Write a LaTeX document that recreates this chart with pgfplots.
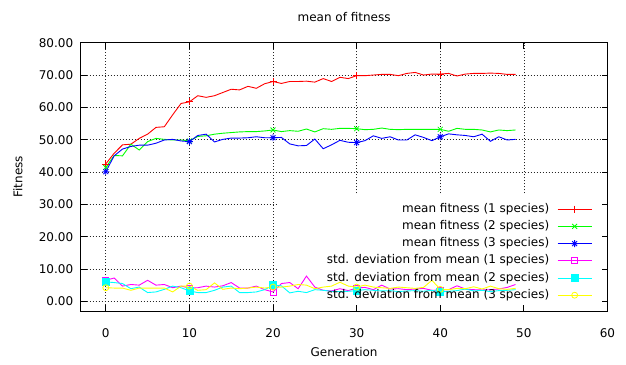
\documentclass[border=0pt]{standalone}
\usepackage{fontspec}
\setmainfont{DejaVu Sans}
\usepackage{pgfplots}
\pgfplotsset{compat=1.18}
\pgfdeclareplotmark{gpstar}{%
  \pgfpathmoveto{\pgfqpoint{-\pgfplotmarksize}{0pt}}\pgfpathlineto{\pgfqpoint{\pgfplotmarksize}{0pt}}%
  \pgfpathmoveto{\pgfqpoint{0pt}{-\pgfplotmarksize}}\pgfpathlineto{\pgfqpoint{0pt}{\pgfplotmarksize}}%
  \pgfpathmoveto{\pgfqpoint{-.707\pgfplotmarksize}{-.707\pgfplotmarksize}}\pgfpathlineto{\pgfqpoint{.707\pgfplotmarksize}{.707\pgfplotmarksize}}%
  \pgfpathmoveto{\pgfqpoint{-.707\pgfplotmarksize}{.707\pgfplotmarksize}}\pgfpathlineto{\pgfqpoint{.707\pgfplotmarksize}{-.707\pgfplotmarksize}}%
  \pgfusepathqstroke}
\tikzset{gpgrid/.style={black!85, line width=0.6pt, dash pattern=on 1pt off 2pt}}

\pgfplotstableread{
g a b c d e f
0 42.5 41.4 40.1 6.5 6.0 4.2
1 45.8 45.1 45.0 7.2 5.8 4.1
2 48.4 45.0 47.1 4.7 5.5 4.1
3 48.6 48.6 47.9 5.2 3.9 3.4
4 50.4 46.8 48.3 5.0 4.4 4.1
5 51.7 49.4 48.3 6.5 2.7 4.1
6 53.8 50.4 48.9 5.0 2.9 4.1
7 54.0 50.1 49.9 5.2 3.7 4.1
8 57.7 49.9 50.1 4.2 4.7 2.9
9 61.2 49.9 49.6 4.7 4.2 4.7
10 61.7 49.6 49.4 4.1 3.2 4.7
11 63.6 51.0 51.3 4.2 2.7 3.4
12 63.1 51.2 51.7 4.7 2.7 3.6
13 63.6 51.7 49.3 4.4 3.4 5.7
14 64.6 52.0 50.1 4.8 4.4 3.7
15 65.6 52.2 50.5 5.8 4.7 4.1
16 65.4 52.4 50.5 4.1 2.7 3.9
17 66.5 52.5 50.6 4.1 2.7 4.1
18 65.9 52.5 50.9 4.7 2.9 4.4
19 67.3 52.7 50.6 3.6 3.6 4.1
20 68.0 53.0 50.6 2.9 5.0 4.4
21 67.4 52.5 50.7 5.5 4.8 4.4
22 68.0 52.8 48.7 5.8 2.6 4.7
23 68.0 52.6 48.1 3.9 3.1 5.2
24 68.1 53.3 48.2 7.8 2.7 5.0
25 67.8 52.4 50.2 4.4 3.6 3.9
26 68.9 53.4 47.2 3.4 3.4 4.4
27 68.0 53.2 48.4 3.2 3.1 4.7
28 69.3 53.5 49.8 3.9 3.0 5.9
29 68.9 53.5 49.2 3.3 3.1 4.7
30 69.8 53.4 49.1 4.1 3.3 4.4
31 69.8 53.1 49.7 4.3 3.6 5.0
32 70.0 53.2 51.2 3.6 3.4 4.4
33 70.2 53.6 50.4 5.0 3.2 4.2
34 70.2 53.2 50.9 3.8 3.3 4.0
35 69.8 53.1 49.9 3.9 3.0 4.4
36 70.5 53.2 49.9 3.6 3.2 4.2
37 70.8 53.2 51.5 3.8 3.3 4.0
38 70.0 53.2 50.7 4.0 3.1 4.3
39 70.3 53.2 49.7 3.4 3.4 6.5
40 70.3 53.2 50.9 3.5 2.9 3.7
41 70.5 52.6 51.8 3.6 3.1 3.6
42 69.7 53.5 51.5 4.8 3.3 4.0
43 70.3 53.2 51.3 3.8 3.8 3.9
44 70.5 53.2 50.9 3.6 3.2 4.5
45 70.5 53.0 51.7 3.5 3.4 3.8
46 70.6 52.4 49.5 3.6 3.0 4.7
47 70.5 53.0 50.9 3.8 3.3 3.9
48 70.2 52.8 49.9 4.3 3.4 3.7
49 70.2 53.0 50.1 5.2 3.6 4.0
}\data

\begin{document}
\begin{tikzpicture}[font=\fontsize{12}{14}\selectfont]
\begin{axis}[
  name=ax,
  scale only axis,
  width=526.8pt, height=268.3pt,
  xmin=-3, xmax=60, ymin=-3, ymax=80,
  xtick={0,10,...,60}, ytick={0,10,...,80},
  /pgf/number format/assume math mode=true,
  yticklabel style={/pgf/number format/fixed, /pgf/number format/fixed zerofill, /pgf/number format/precision=2, anchor=east, xshift=-4pt},
  xticklabel style={anchor=base, yshift=-26.4pt},
  tick align=inside,
  major tick length=6pt,
  tick style={black, line width=0.8pt},
  axis line style={black, line width=1pt},
  axis on top,
  title={mean of fitness},
  title style={at={(axis description cs:0.5,1)}, anchor=base, yshift=15.6pt},
  xlabel={Generation},
  xlabel style={at={(axis description cs:0.5,0)}, anchor=center, yshift=-41pt},
  ylabel={Fitness},
  ylabel style={at={(axis description cs:0,0.5)}, anchor=center, yshift=62.7pt},
  legend cell align=right,
  legend plot pos=right,
  legend image code/.code={\draw[mark repeat=2,mark phase=2,#1] plot coordinates {(0pt,0pt) (17pt,0pt) (34pt,0pt)};},
  legend style={at={(axis description cs:1,1)}, anchor=north east, xshift=-15.2pt, yshift=-160.3pt,
    draw=none, fill=none, inner sep=0pt, row sep=5.2pt, column sep=8pt,
    nodes={inner sep=0pt, text height=9pt, text depth=3pt}},
  every axis plot/.append style={line width=0.9pt, mark repeat=10, mark size=3.5pt, mark options={solid, line width=0.8pt}},
]
% grid (hidden behind the key box, as in the reference)
\draw[gpgrid] (axis cs:0,-3) -- (axis cs:0,80);
\draw[gpgrid] (axis cs:10,-3) -- (axis cs:10,80);
\draw[gpgrid] (axis cs:20,-3) -- (axis cs:20,80);
\draw[gpgrid] (axis cs:30,33.4) -- (axis cs:30,80);
\draw[gpgrid] (axis cs:40,33.4) -- (axis cs:40,80);
\draw[gpgrid] (axis cs:50,33.4) -- (axis cs:50,80);
\draw[gpgrid] (axis cs:-3,40) -- (axis cs:60,40);
\draw[gpgrid] (axis cs:-3,50) -- (axis cs:60,50);
\draw[gpgrid] (axis cs:-3,60) -- (axis cs:60,60);
\draw[gpgrid] (axis cs:-3,70) -- (axis cs:60,70);
\draw[gpgrid] (axis cs:-3,0) -- (axis cs:20.5,0);
\draw[gpgrid] (axis cs:-3,10) -- (axis cs:20.5,10);
\draw[gpgrid] (axis cs:-3,20) -- (axis cs:20.5,20);
\draw[gpgrid] (axis cs:-3,30) -- (axis cs:20.5,30);
\addplot[color={rgb,255:red,255;green,0;blue,0}, mark=+] table[x=g,y=a] {\data};
\addlegendentry{mean fitness (1 species)}
\addplot[color={rgb,255:red,0;green,255;blue,0}, mark=x] table[x=g,y=b] {\data};
\addlegendentry{mean fitness (2 species)}
\addplot[color={rgb,255:red,0;green,0;blue,255}, mark=gpstar] table[x=g,y=c] {\data};
\addlegendentry{mean fitness (3 species)}
\addplot[color={rgb,255:red,255;green,0;blue,255}, mark=square, mark size=3pt] table[x=g,y=d] {\data};
\addlegendentry{std. deviation from mean (1 species)}
\addplot[color={rgb,255:red,0;green,255;blue,255}, mark=square*, mark size=3.5pt] table[x=g,y=e] {\data};
\addlegendentry{std. deviation from mean (2 species)}
\addplot[color={rgb,255:red,255;green,255;blue,0}, mark=o, mark size=3pt] table[x=g,y=f] {\data};
\addlegendentry{std. deviation from mean (3 species)}
\end{axis}
\pgfresetboundingbox
\path[use as bounding box] (ax.south west) ++(-80.7pt,-53pt) rectangle ++(626pt,364pt);
\end{tikzpicture}
\end{document}
